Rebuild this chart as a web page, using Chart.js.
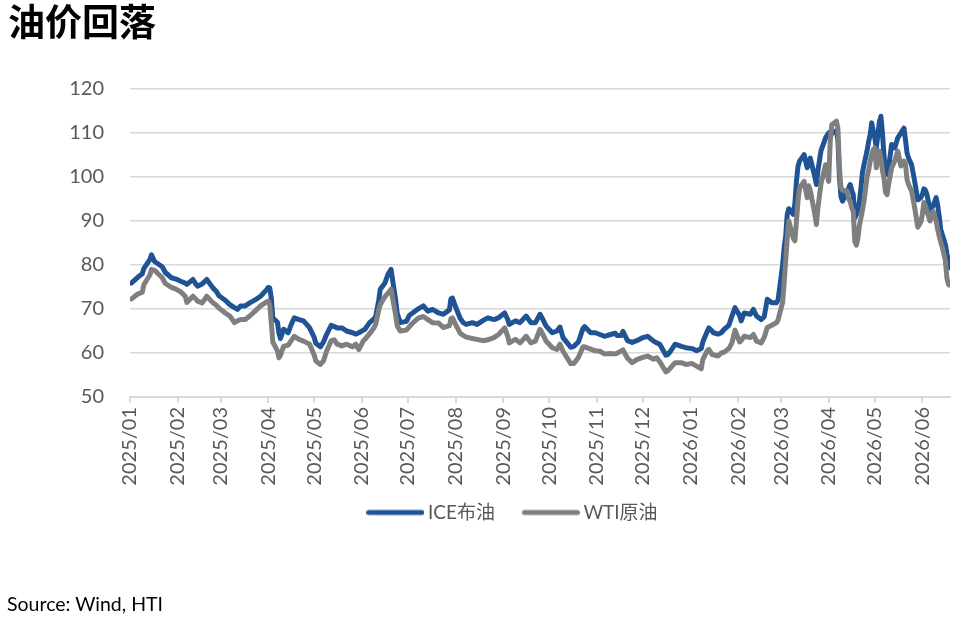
<!DOCTYPE html>
<html>
<head>
<meta charset="utf-8">
<script src="https://cdn.jsdelivr.net/npm/chart.js@4.4.1/dist/chart.umd.min.js"></script>
<style>
  html, body { margin: 0; padding: 0; background: #ffffff; }
  #wrap { position: relative; width: 978px; height: 621px; overflow: hidden; background: #fff; }
  #title { position: absolute; left: 8px; top: 0px; font: 700 37px "Noto Sans CJK SC", sans-serif; line-height: 40px; color: #000; }
  #source { position: absolute; left: 7px; top: 592px; font: 19.5px Lato, "Noto Sans", sans-serif; color: #000; }
  #c { position: absolute; left: 0; top: 0; }
</style>
</head>
<body>
<div id="wrap">
  <canvas id="c" width="978" height="621"></canvas>
  <div id="title">油价回落</div>
  <div id="source">Source: Wind, HTI</div>
</div>
<script>
// ---- data ----
const seriesNames = ['ICE布油', 'WTI原油'];
const dates = [
 '2025-01-02','2025-01-06','2025-01-09','2025-01-10','2025-01-14','2025-01-15','2025-01-17','2025-01-22','2025-01-24','2025-01-28','2025-01-31',
 '2025-02-03','2025-02-06','2025-02-07','2025-02-11','2025-02-13','2025-02-14','2025-02-17','2025-02-20','2025-02-24','2025-02-26','2025-02-28',
 '2025-03-04','2025-03-07','2025-03-10','2025-03-12','2025-03-14','2025-03-17','2025-03-20','2025-03-24','2025-03-27','2025-03-31',
 '2025-04-01','2025-04-02','2025-04-03','2025-04-04','2025-04-07','2025-04-08','2025-04-09','2025-04-11','2025-04-14','2025-04-16','2025-04-18','2025-04-21','2025-04-24','2025-04-28',
 '2025-05-01','2025-05-02','2025-05-05','2025-05-07','2025-05-09','2025-05-12','2025-05-14','2025-05-16','2025-05-19','2025-05-22','2025-05-26','2025-05-28','2025-05-30',
 '2025-06-02','2025-06-03','2025-06-06','2025-06-09','2025-06-10','2025-06-12','2025-06-13','2025-06-16','2025-06-18','2025-06-20','2025-06-23','2025-06-24','2025-06-26','2025-06-30',
 '2025-07-02','2025-07-04','2025-07-08','2025-07-11','2025-07-14','2025-07-17','2025-07-21','2025-07-24','2025-07-28','2025-07-29','2025-07-30',
 '2025-08-01','2025-08-04','2025-08-06','2025-08-08','2025-08-12','2025-08-15','2025-08-19','2025-08-22','2025-08-26','2025-08-29',
 '2025-09-02','2025-09-04','2025-09-05','2025-09-09','2025-09-12','2025-09-16','2025-09-19','2025-09-22','2025-09-25','2025-09-26','2025-09-29',
 '2025-10-03','2025-10-06','2025-10-08','2025-10-10','2025-10-15','2025-10-17','2025-10-20','2025-10-23','2025-10-24','2025-10-28','2025-10-31',
 '2025-11-03','2025-11-06','2025-11-10','2025-11-13','2025-11-14','2025-11-17','2025-11-18','2025-11-21','2025-11-24','2025-11-27',
 '2025-12-01','2025-12-04','2025-12-08','2025-12-10','2025-12-12','2025-12-16','2025-12-17','2025-12-19','2025-12-22','2025-12-26','2025-12-29',
 '2026-01-02','2026-01-05','2026-01-08','2026-01-09','2026-01-12','2026-01-13','2026-01-15','2026-01-16','2026-01-19','2026-01-21','2026-01-23','2026-01-26','2026-01-28','2026-01-30',
 '2026-02-02','2026-02-03','2026-02-05','2026-02-09','2026-02-11','2026-02-13','2026-02-16','2026-02-18','2026-02-20','2026-02-23','2026-02-26','2026-02-27',
 '2026-03-02','2026-03-03','2026-03-04','2026-03-05','2026-03-06','2026-03-09','2026-03-10','2026-03-11','2026-03-12','2026-03-13','2026-03-16','2026-03-18','2026-03-19','2026-03-20','2026-03-23','2026-03-24','2026-03-25','2026-03-27','2026-03-30','2026-03-31',
 '2026-04-01','2026-04-02','2026-04-03','2026-04-06','2026-04-07','2026-04-08','2026-04-09','2026-04-10','2026-04-13','2026-04-14','2026-04-15','2026-04-16','2026-04-17','2026-04-18','2026-04-19','2026-04-20','2026-04-21','2026-04-22','2026-04-23','2026-04-24','2026-04-26','2026-04-27','2026-04-28','2026-04-29','2026-04-30',
 '2026-05-01','2026-05-02','2026-05-03','2026-05-04','2026-05-05','2026-05-06','2026-05-07','2026-05-08','2026-05-09','2026-05-10','2026-05-12','2026-05-14','2026-05-16','2026-05-18','2026-05-19','2026-05-20','2026-05-21','2026-05-22','2026-05-23','2026-05-25','2026-05-27','2026-05-29','2026-05-31',
 '2026-06-01','2026-06-02','2026-06-03','2026-06-04','2026-06-06','2026-06-08','2026-06-10','2026-06-11','2026-06-12','2026-06-13','2026-06-14','2026-06-16','2026-06-17','2026-06-18','2026-06-19'
];
const brent = [
 75.9,77.2,78.0,79.2,81.3,82.3,80.8,79.6,78.3,77.1,76.8,
 76.3,75.9,75.6,76.7,75.6,75.2,75.7,76.7,74.8,74.1,73.0,
 72.0,71.0,70.3,69.9,70.7,70.7,71.4,72.2,72.9,74.4,
 74.9,74.8,72.5,68.0,67.0,64.5,63.3,65.4,64.6,66.5,68.0,67.6,67.3,65.7,
 63.5,62.2,61.4,62.5,64.2,66.3,66.0,65.7,65.7,65.0,64.6,64.3,64.6,
 65.2,65.4,66.9,67.8,68.3,72.0,74.5,75.9,77.9,79.0,72.0,69.0,66.9,67.2,
 68.6,69.1,70.1,70.7,69.5,69.9,69.1,68.8,69.8,72.3,72.5,
 70.5,67.9,66.9,66.5,66.9,66.5,67.4,68.0,67.6,68.0,
 69.1,67.6,66.5,67.3,66.9,68.4,66.9,66.9,68.8,68.2,66.1,
 64.6,65.0,65.9,63.5,61.3,61.5,62.5,65.6,66.0,64.6,64.6,
 64.2,63.8,64.2,64.5,64.0,64.0,64.9,62.8,62.4,62.8,
 63.5,63.8,62.7,62.3,62.0,59.5,59.6,60.4,62.0,61.5,61.2,
 61.0,60.5,61.0,62.5,65.0,65.7,65.0,64.6,64.3,64.6,65.4,66.3,68.4,70.3,
 68.5,67.3,69.1,68.8,69.9,68.4,67.6,68.2,72.2,71.4,71.4,72.0,
 80.0,84.0,86.5,91.5,92.8,91.5,94.0,99.0,102.4,103.6,105.1,102.1,103.5,104.3,100.0,98.3,101.5,106.0,108.9,109.5,
 110.0,109.0,110.0,110.5,108.5,100.0,95.5,94.5,96.8,97.5,98.3,97.0,96.0,90.7,91.5,92.5,94.5,97.5,101.0,102.8,106.0,108.0,109.6,112.3,110.5,
 109.0,106.6,109.5,112.5,113.8,110.0,105.0,101.0,100.6,102.1,107.4,106.6,108.9,110.0,110.5,111.1,108.5,105.5,104.3,102.8,99.0,94.8,95.3,
 96.0,97.3,97.0,96.0,92.5,93.5,95.3,93.5,91.0,88.0,86.9,84.6,82.5,81.0,79.4
];
const wti = [
 72.3,73.4,73.8,75.5,77.8,79.0,78.8,77.1,75.8,74.9,74.5,
 73.9,72.9,71.5,72.9,72.2,71.8,71.4,72.9,71.4,70.9,70.2,
 69.1,68.4,66.9,67.3,67.6,67.6,68.4,69.7,70.7,71.6,
 71.8,71.0,67.0,62.5,60.5,58.9,59.5,61.5,61.8,62.8,63.8,63.1,62.7,62.0,
 59.5,58.2,57.4,58.2,60.4,62.8,63.0,62.0,61.6,62.0,61.4,62.0,60.8,
 62.8,63.1,64.4,65.8,66.5,69.8,71.0,72.8,73.6,74.5,68.6,66.2,65.0,65.2,
 66.0,66.8,68.0,68.3,67.6,66.9,66.8,65.8,66.2,67.8,68.0,
 66.5,64.5,64.0,63.6,63.3,63.1,62.8,63.0,63.5,64.2,
 65.7,63.8,62.3,63.1,62.3,63.8,62.3,62.7,65.4,64.8,62.7,
 61.2,60.8,62.0,60.4,57.6,57.6,59.0,61.4,61.4,60.9,60.5,
 60.4,59.8,59.9,59.8,59.9,60.5,60.7,58.8,57.8,58.5,
 59.0,59.3,58.6,58.9,58.0,55.7,55.9,56.6,57.8,57.8,57.4,
 57.6,57.0,56.4,58.5,60.6,60.8,59.7,59.6,59.3,60.0,60.2,61.0,62.3,65.2,
 62.5,62.8,63.8,63.5,64.2,62.7,62.3,63.5,65.8,66.3,66.9,67.5,
 71.5,76.0,81.0,86.0,90.0,86.0,85.5,90.0,94.5,97.5,99.0,95.3,98.0,97.0,91.5,89.2,93.0,98.5,102.8,100.5,
 99.0,108.1,111.9,112.7,111.1,102.1,97.5,97.0,96.8,95.0,94.5,93.0,92.2,85.4,84.5,86.0,89.0,90.7,92.5,94.5,100.0,101.5,103.5,105.1,106.2,
 106.6,102.1,104.0,105.9,104.5,101.5,99.8,96.5,96.0,98.3,102.1,103.6,105.9,102.5,102.8,103.6,103.0,99.5,98.3,96.8,93.0,88.6,89.8,
 91.5,94.2,93.5,92.2,90.0,92.2,90.0,88.0,86.5,85.2,84.0,81.0,77.0,75.6,75.4
];
const tickDates = ['2025-01-01','2025-02-01','2025-03-01','2025-04-01','2025-05-01','2025-06-01','2025-07-01','2025-08-01','2025-09-01',
  '2025-10-01','2025-11-01','2025-12-01','2026-01-01','2026-02-01','2026-03-01','2026-04-01','2026-05-01','2026-06-01'];
const tickLabels = ['2025/01','2025/02','2025/03','2025/04','2025/05','2025/06','2025/07','2025/08','2025/09',
  '2025/10','2025/11','2025/12','2026/01','2026/02','2026/03','2026/04','2026/05','2026/06'];
const axisStart = '2025-01-01';
const axisEnd = '2026-06-19';
const yMin = 50, yMax = 120, yStep = 10;

// ---- helpers ----
function dayOf(s) {
  const [y, m, d] = s.split('-').map(Number);
  const [y0, m0, d0] = axisStart.split('-').map(Number);
  return Math.round((Date.UTC(y, m - 1, d) - Date.UTC(y0, m0 - 1, d0)) / 86400000);
}
const xs = dates.map(dayOf);
const toPoints = vals => vals.map((v, i) => ({ x: xs[i], y: v }));
const tickValues = tickDates.map(dayOf);

const FONT = 'Lato, "Noto Sans CJK SC", sans-serif';
const BLUE = '#1f5393';
const GRAY = '#7f7f7f';

// legend swatch: a thick line with round caps
function swatch(color) {
  const c = document.createElement('canvas');
  c.width = 58; c.height = 8;
  const g = c.getContext('2d');
  g.strokeStyle = color; g.lineWidth = 5; g.lineCap = 'round';
  g.beginPath(); g.moveTo(2.5, 4); g.lineTo(55.5, 4); g.stroke();
  return c;
}

// move the legend to where the reference has it
const legendShift = {
  id: 'legendShift',
  afterLayout(chart) {
    const l = chart.legend;
    if (l) { l.left += 40; l.right += 40; l.top -= 19; l.bottom -= 19; }
  }
};

new Chart(document.getElementById('c'), {
  type: 'line',
  data: {
    datasets: [
      { label: seriesNames[0], data: toPoints(brent), borderColor: BLUE, backgroundColor: BLUE, pointStyle: swatch(BLUE),
        borderWidth: 5, pointRadius: 0, tension: 0, borderJoinStyle: 'round', borderCapStyle: 'round', order: 1 },
      { label: seriesNames[1], data: toPoints(wti), borderColor: GRAY, backgroundColor: GRAY, pointStyle: swatch(GRAY),
        borderWidth: 5, pointRadius: 0, tension: 0, borderJoinStyle: 'round', borderCapStyle: 'round', order: 0 }
    ]
  },
  options: {
    responsive: false,
    animation: false,
    devicePixelRatio: 1,
    layout: { padding: { left: 0, right: 28, top: 89, bottom: 70 } },
    plugins: {
      tooltip: { enabled: false },
      title: { display: false },
      legend: {
        position: 'bottom',
        labels: {
          usePointStyle: true, pointStyleWidth: 46, boxHeight: 5,
          color: '#595959', font: { family: FONT, size: 19 }, padding: 33,
          sort: (a, b) => a.datasetIndex - b.datasetIndex
        }
      }
    },
    scales: {
      x: {
        type: 'linear',
        min: dayOf(axisStart), max: dayOf(axisEnd),
        afterBuildTicks: s => { s.ticks = tickValues.map(v => ({ value: v })); },
        afterFit: s => { s.height = 92; },
        ticks: {
          autoSkip: false, minRotation: 90, maxRotation: 90, padding: 4,
          color: '#595959', font: { family: FONT, size: 20 },
          callback: v => { const i = tickValues.indexOf(v); return i >= 0 ? tickLabels[i] : ''; }
        },
        grid: { drawOnChartArea: false, drawTicks: true, tickLength: 6, color: '#d9d9d9', lineWidth: 2 },
        border: { display: true, color: '#d9d9d9', width: 2 }
      },
      y: {
        min: yMin, max: yMax,
        afterFit: s => { s.width = 130; },
        ticks: { stepSize: yStep, padding: 26, color: '#595959', font: { family: FONT, size: 20 } },
        grid: { color: '#d9d9d9', lineWidth: 1.5, drawTicks: false },
        border: { display: false }
      }
    }
  },
  plugins: [legendShift]
});
</script>
</body>
</html>
